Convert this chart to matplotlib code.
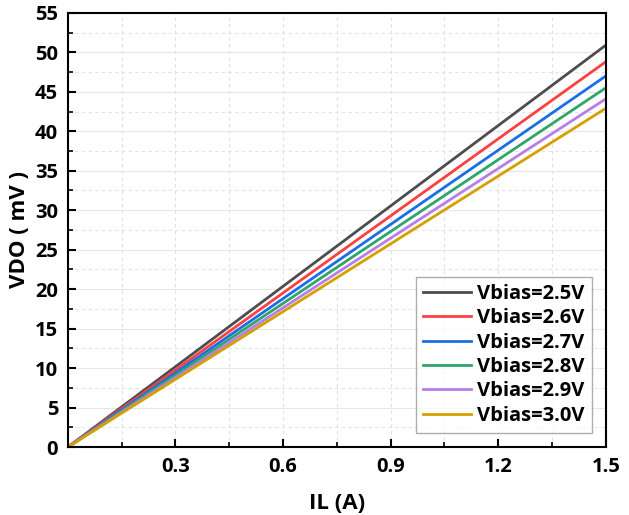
import matplotlib.pyplot as plt
import numpy as np
from matplotlib.ticker import MultipleLocator

plt.rcParams['font.family'] = ['Open Sans', 'DejaVu Sans']
plt.rcParams['font.weight'] = 'bold'

# current (A) and VDO (mV) at full load for each bias
il = [0.0, 1.5]
labels = ['Vbias=2.5V', 'Vbias=2.6V', 'Vbias=2.7V', 'Vbias=2.8V', 'Vbias=2.9V', 'Vbias=3.0V']
vdo_end = [50.9, 48.8, 47.0, 45.5, 44.1, 42.9]
colors = ['#4d4d4d', '#ff4040', '#1a6ee6', '#2ea66a', '#b77ee8', '#d4a000']

fig = plt.figure(figsize=(6.29, 5.15), dpi=100)
ax = fig.add_axes([0.108, 0.132, 0.855, 0.843])

for lab, v, c in zip(labels, vdo_end, colors):
    ax.plot(il, [0, v], color=c, lw=2, label=lab)

ax.set_xlim(0, 1.5)
ax.set_ylim(0, 55)
ax.xaxis.set_major_locator(MultipleLocator(0.3))
ax.xaxis.set_minor_locator(MultipleLocator(0.15))
ax.yaxis.set_major_locator(MultipleLocator(5))
ax.yaxis.set_minor_locator(MultipleLocator(2.5))
ax.set_xticks([0.3, 0.6, 0.9, 1.2, 1.5])
ax.set_xticklabels(['0.3', '0.6', '0.9', '1.2', '1.5'])

ax.grid(which='major', axis='y', color='#e6e6e6', lw=0.8, ls='-')
ax.grid(which='minor', axis='y', color='#e3e3e3', lw=0.8, ls=(0, (3, 3)))
ax.grid(which='both', axis='x', color='#e0e0e0', lw=0.8, ls=(0, (3, 3)))
ax.set_axisbelow(True)

ax.tick_params(which='major', direction='in', length=6, width=1.5, labelsize=14.5, pad=7)
ax.tick_params(which='minor', direction='in', length=3.5, width=1.2)
for s in ax.spines.values():
    s.set_linewidth(1.5)

ax.set_xlabel('IL (A)', fontsize=16, fontweight='bold', labelpad=12)
ax.set_ylabel('VDO ( mV )', fontsize=16, fontweight='bold', labelpad=4)

leg = ax.legend(loc='lower right', fontsize=14.5, frameon=True, fancybox=False,
                edgecolor='#999999', handlelength=2.4, borderaxespad=0.7,
                labelspacing=0.22, handletextpad=0.3, borderpad=0.35)
leg.get_frame().set_linewidth(1.0)
for t in leg.get_texts():
    t.set_fontweight('bold')

fig.savefig('out.png', dpi=100)
